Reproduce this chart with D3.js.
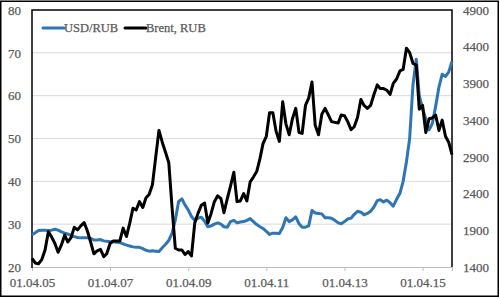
<!DOCTYPE html>
<html lang="en">
<head>
<meta charset="utf-8">
<script src="https://d3js.org/d3.v7.min.js"></script>
<style>
  body { margin: 0; background: #fff; }
  svg { display: block; }
  .tick text { font: 13px "Liberation Serif", serif; fill: #595959; stroke: #595959; stroke-width: 0.25px; }
  .legend text { font: 12.5px "Liberation Serif", serif; fill: #595959; stroke: #595959; stroke-width: 0.25px; }
</style>
</head>
<body>
<script>
// series names and colours (legend order)
var seriesNames = ["USD/RUB", "Brent, RUB"];
var seriesColors = ["#2e75b6", "#000000"];

// monthly points, Apr 2005 .. Jan 2016
var months = d3.timeMonth.range(new Date(2005, 3, 1), new Date(2016, 1, 1));

// USD/RUB, left axis
var usdRub = [
  27.5, 28.0, 28.5, 28.6, 28.6, 28.5, 28.6, 28.8, 28.6, 28.2,
  27.9, 27.7, 27.4, 27.1, 26.9, 26.8, 26.8, 26.8, 26.7, 26.3,
  26.3, 26.4, 26.1, 26.0, 25.9, 25.9, 25.8, 25.7, 25.4, 25.1,
  24.9, 24.7, 24.6, 24.6, 24.3, 23.9, 23.7, 23.8, 23.7, 23.6,
  24.5, 25.3, 26.2, 27.9, 31.0, 35.3, 35.9, 34.5, 33.3, 31.8,
  30.9, 31.4, 31.6, 30.7, 29.4, 29.6, 30.0, 30.3, 30.0, 29.4,
  29.3, 30.6, 30.9, 30.3, 30.5, 30.6, 30.9, 31.3, 30.6, 29.9,
  29.4, 29.0, 28.3, 27.6, 27.9, 27.9, 27.8, 29.2, 31.5, 30.6,
  31.0, 31.7, 30.1, 29.3, 29.3, 29.6, 33.2, 32.6, 32.5, 32.4,
  31.5, 31.5, 31.4, 30.9, 30.3, 30.1, 30.6, 31.2, 31.4, 32.3,
  33.0, 32.8, 32.2, 32.5, 33.0, 34.0, 35.5, 35.7, 35.2, 35.6,
  35.0, 34.2, 35.8, 37.2, 40.0, 44.5, 50.0, 62.5, 68.5, 60.0,
  57.0, 54.5, 52.0, 53.5, 57.5, 62.0, 65.0, 64.5, 65.5, 68.0
];

// Brent in roubles, right axis
var brentRub = [
  1518, 1455, 1445, 1500, 1630, 1880, 1810, 1720, 1600, 1700,
  1836, 1740, 1800, 1940, 1905, 1960, 2005, 1890, 1740, 1580,
  1620, 1640, 1540, 1580, 1720, 1754, 1754, 1754, 1930, 1815,
  1990, 2200, 2176, 2290, 2210, 2340, 2390, 2520, 2900, 3260,
  3100, 2960, 2820, 2200, 1655, 1631, 1631, 1570, 1610, 1550,
  2000, 2130, 2240, 2270, 2000, 2130, 2290, 2370, 2330, 2140,
  2330, 2500, 2690, 2290, 2300, 2400, 2300, 2560, 2625, 2700,
  2880, 3080, 3180, 3500, 3500, 3250, 3110, 3650, 3350, 3200,
  3420, 3560, 3230, 3220, 3600, 3700, 3920, 3330, 3200, 3480,
  3560, 3470, 3380, 3370, 3360, 3470, 3460, 3380, 3270, 3310,
  3440, 3680, 3600, 3560, 3600, 3750, 3880, 3830, 3830, 3810,
  3750, 3900, 3960, 4070, 4090, 4380, 4320, 4174, 4150, 3550,
  3600, 3230, 3420, 3430, 3470, 3260, 3400, 3180, 3100, 2930
];

// tick labels
var leftTicks = [20, 30, 40, 50, 60, 70, 80];
var rightTicks = [1400, 1900, 2400, 2900, 3400, 3900, 4400, 4900];
var dateTicks = ["2005-04-01", "2007-04-01", "2009-04-01", "2011-04-01", "2013-04-01", "2015-04-01"];

var W = 500, H = 299;
var plot = {left: 32, right: 452, top: 10, bottom: 267};

var svg = d3.select("body").append("svg")
    .attr("width", W)
    .attr("height", H);

var x = d3.scaleTime()
    .domain([months[0], months[months.length - 1]])
    .range([plot.left, plot.right]);
var yL = d3.scaleLinear().domain([20, 80]).range([plot.bottom, plot.top]);
var yR = d3.scaleLinear().domain([1400, 4900]).range([plot.bottom, plot.top]);

// outer frame
svg.append("rect")
    .attr("x", 0.75).attr("y", 1.25)
    .attr("width", 497.5).attr("height", 295)
    .attr("fill", "none")
    .attr("stroke", "#000")
    .attr("stroke-width", 1.5);

// gridlines
svg.append("g").selectAll("line")
    .data(leftTicks.slice(1, -1))
    .enter().append("line")
    .attr("x1", plot.left).attr("x2", plot.right)
    .attr("y1", function(d) { return yL(d); })
    .attr("y2", function(d) { return yL(d); })
    .attr("stroke", "#d9d9d9")
    .attr("stroke-width", 1);

// axes
var gx = svg.append("g")
    .attr("transform", "translate(0," + plot.bottom + ")")
    .call(d3.axisBottom(x)
        .tickValues(dateTicks.map(function(s) { return d3.timeParse("%Y-%m-%d")(s); }))
        .tickFormat(d3.timeFormat("%d.%m.%y"))
        .tickSize(4).tickPadding(7));
gx.select(".domain").attr("stroke", "#bfbfbf");
gx.selectAll(".tick line").attr("stroke", "#bfbfbf");

var gl = svg.append("g")
    .attr("transform", "translate(" + plot.left + ",0)")
    .call(d3.axisLeft(yL).tickValues(leftTicks).tickFormat(d3.format("d")).tickSize(0).tickPadding(11));
gl.select(".domain").remove();

var gr = svg.append("g")
    .attr("transform", "translate(" + plot.right + ",0)")
    .call(d3.axisRight(yR).tickValues(rightTicks).tickFormat(d3.format("d")).tickSize(0).tickPadding(11));
gr.select(".domain").remove();

// plot border (top, left, right)
svg.append("path")
    .attr("d", "M" + plot.left + "," + (plot.bottom + 1) + "V" + plot.top + "H" + plot.right + "V" + plot.bottom)
    .attr("fill", "none")
    .attr("stroke", "#000")
    .attr("stroke-width", 1.5);

// lines
var lineL = d3.line()
    .x(function(d, i) { return x(months[i]); })
    .y(function(d) { return yL(d); });
var lineR = d3.line()
    .x(function(d, i) { return x(months[i]); })
    .y(function(d) { return yR(d); });

svg.append("path")
    .datum(usdRub)
    .attr("d", lineL)
    .attr("fill", "none")
    .attr("stroke", seriesColors[0])
    .attr("stroke-width", 3)
    .attr("stroke-linejoin", "round");

svg.append("path")
    .datum(brentRub)
    .attr("d", lineR)
    .attr("fill", "none")
    .attr("stroke", seriesColors[1])
    .attr("stroke-width", 3)
    .attr("stroke-linejoin", "round");

// legend
var legend = svg.append("g").attr("class", "legend");
var legendX = [43, 125];
seriesNames.forEach(function(name, i) {
  legend.append("line")
      .attr("x1", legendX[i]).attr("x2", legendX[i] + 21)
      .attr("y1", 28).attr("y2", 28)
      .attr("stroke", seriesColors[i])
      .attr("stroke-width", 3)
      .attr("stroke-linecap", "round");
  legend.append("text")
      .attr("x", legendX[i] + 21)
      .attr("y", 32)
      .text(name);
});
</script>
</body>
</html>
